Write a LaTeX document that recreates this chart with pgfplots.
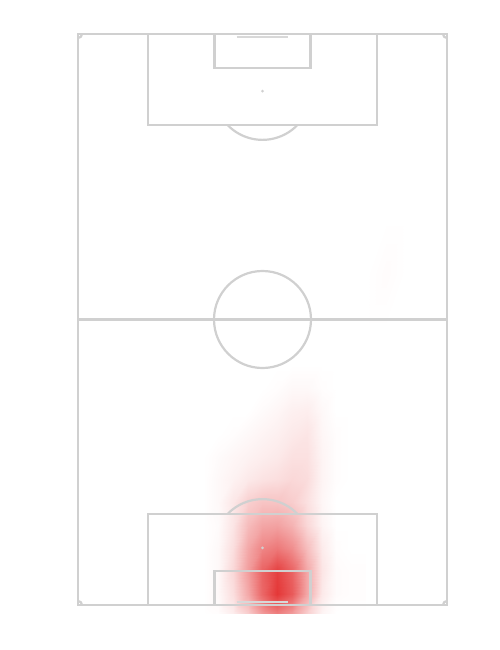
\documentclass[border=0pt]{standalone}
\usepackage{pgfplots}
\pgfplotsset{compat=1.18}
\definecolor{pitchline}{RGB}{208,208,208}
\definecolor{goalline}{RGB}{216,216,216}
\tikzset{pitch/.style={draw=pitchline, line width=2.2pt}}

\begin{document}
\begin{tikzpicture}
\path[use as bounding box] (-78pt,-45pt) rectangle (422pt,605pt);
\begin{axis}[
    at={(0,0)}, anchor=south west,
    width=369pt, height=571pt, scale only axis,
    hide axis,
    xmin=0, xmax=100, ymin=0, ymax=100,
    y dir=reverse,
    clip=false,
    colormap={heat}{rgb255=(255,255,255) rgb255=(226,38,38)},
    point meta min=0, point meta max=1,
]

% heat grid (x = across pitch, y = along pitch)
\addplot[surf, shader=interp, mesh/cols=12, point meta=\thisrow{v}] table {
x y v
34 58 0
38 58 0
42 58 0
46 58 0
50 58 0
54 58 0
58 58 0
62 58 0
66 58 0
70 58 0
74 58 0
78 58 0
34 62 0
38 62 0
42 62 0
46 62 0
50 62 0
54 62 0.01
58 62 0.03
62 62 0.03
66 62 0.01
70 62 0
74 62 0
78 62 0
34 66 0
38 66 0
42 66 0
46 66 0
50 66 0.02
54 66 0.04
58 66 0.07
62 66 0.08
66 66 0.03
70 66 0
74 66 0
78 66 0
34 70 0
38 70 0
42 70 0.01
46 70 0.03
50 70 0.05
54 70 0.07
58 70 0.10
62 70 0.12
66 70 0.04
70 70 0.01
74 70 0
78 70 0
34 74 0
38 74 0.02
42 74 0.04
46 74 0.06
50 74 0.08
54 74 0.10
58 74 0.14
62 74 0.14
66 74 0.05
70 74 0.01
74 74 0
78 74 0
34 78 0
38 78 0.03
42 78 0.06
46 78 0.10
50 78 0.13
54 78 0.15
58 78 0.18
62 78 0.16
66 78 0.05
70 78 0.01
74 78 0
78 78 0
34 82 0
38 82 0.03
42 82 0.11
46 82 0.22
50 82 0.27
54 82 0.27
58 82 0.23
62 82 0.14
66 82 0.04
70 82 0
74 82 0
78 82 0
34 86 0
38 86 0.02
42 86 0.12
46 86 0.31
50 86 0.41
54 86 0.43
58 86 0.35
62 86 0.18
66 86 0.05
70 86 0
74 86 0
78 86 0
34 90 0
38 90 0.03
42 90 0.15
46 90 0.40
50 90 0.56
54 90 0.62
58 90 0.52
62 90 0.30
66 90 0.09
70 90 0.01
74 90 0
78 90 0
34 94 0
38 94 0.03
42 94 0.18
46 94 0.45
50 94 0.72
54 94 0.88
58 94 0.72
62 94 0.40
66 94 0.12
70 94 0.02
74 94 0.01
78 94 0.01
34 98 0
38 98 0.03
42 98 0.15
46 98 0.40
50 98 0.70
54 98 0.92
58 98 0.76
62 98 0.40
66 98 0.10
70 98 0.02
74 98 0.01
78 98 0.01
34 101.5 0
38 101.5 0.01
42 101.5 0.08
46 101.5 0.22
50 101.5 0.45
54 101.5 0.58
58 101.5 0.45
62 101.5 0.22
66 101.5 0.05
70 101.5 0
74 101.5 0
78 101.5 0
};

% faint patch on the right
\addplot[surf, shader=interp, mesh/cols=3, point meta=\thisrow{v}] table {
x y v
78 32 0
83.5 32 0
89 32 0
78 42 0
83.5 42 0.015
89 42 0
78 52 0
83.5 52 0
89 52 0
};

% pitch markings
\draw[pitch] (axis cs:0,0) rectangle (axis cs:100,100);
\draw[pitch] (axis cs:0,50) -- (axis cs:100,50);
\draw[pitch] (axis cs:19,0) rectangle (axis cs:81,16);
\draw[pitch] (axis cs:37,0) rectangle (axis cs:63,6);
\draw[pitch] (axis cs:19,100) rectangle (axis cs:81,84);
\draw[pitch] (axis cs:37,100) rectangle (axis cs:63,94);
\draw[pitch] (axis cs:50,50) circle[radius=48.5pt];
\draw[pitch] (axis cs:50,16) ++(-34.6pt,0) arc[start angle=224.5, end angle=315.5, radius=48.5pt];
\draw[pitch] (axis cs:50,84) ++(34.6pt,0) arc[start angle=44.5, end angle=135.5, radius=48.5pt];
\fill[pitchline] (axis cs:50,10) circle[radius=1.5pt];
\fill[pitchline] (axis cs:50,90) circle[radius=1.5pt];
\fill[pitchline] (axis cs:50,50) circle[radius=1.2pt];
\draw[pitch] (axis cs:0,0) ++(4pt,0) arc[start angle=0, end angle=-90, radius=4pt];
\draw[pitch] (axis cs:100,0) ++(-4pt,0) arc[start angle=180, end angle=270, radius=4pt];
\draw[pitch] (axis cs:0,100) ++(4pt,0) arc[start angle=0, end angle=90, radius=4pt];
\draw[pitch] (axis cs:100,100) ++(-4pt,0) arc[start angle=180, end angle=90, radius=4pt];
\draw[goalline, line width=1.6pt] (axis cs:43,0.5) -- (axis cs:57,0.5);
\draw[goalline, line width=1.6pt] (axis cs:43,99.5) -- (axis cs:57,99.5);
\end{axis}
\end{tikzpicture}
\end{document}
